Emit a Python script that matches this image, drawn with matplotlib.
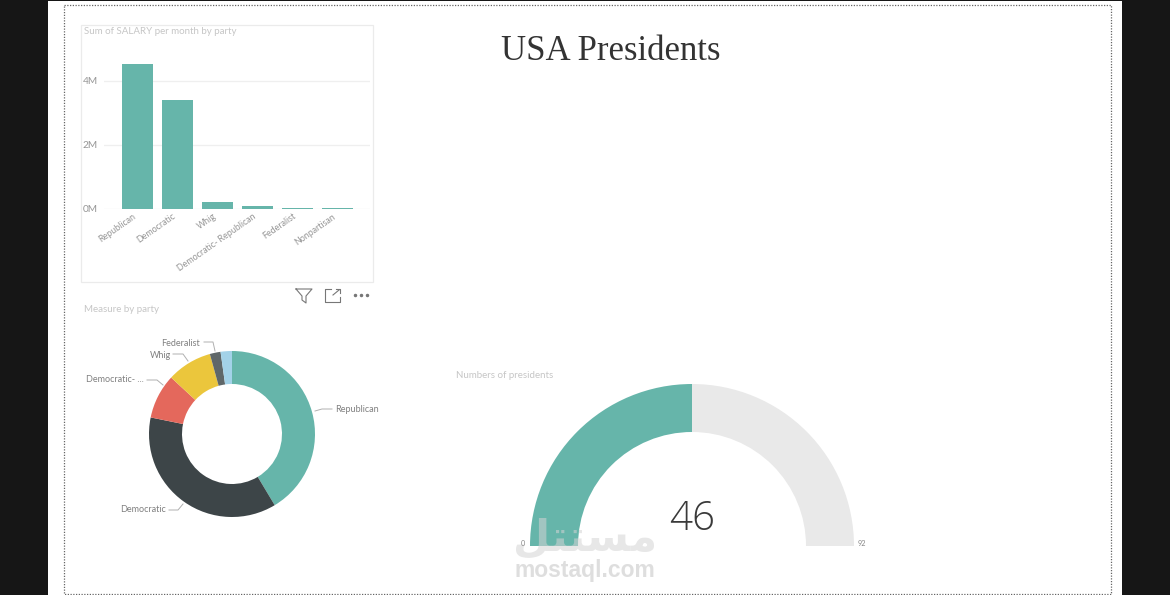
import matplotlib
matplotlib.use("Agg")
import matplotlib.pyplot as plt
from matplotlib.patches import Rectangle
from matplotlib.ticker import FuncFormatter
from matplotlib.transforms import ScaledTranslation

W, H = 1170, 595

# ---- data ----
bar_parties = ["Republican", "Democratic", "Whig", "Democratic- Republican", "Federalist", "Nonpartisan"]
bar_salary_millions = [4.53, 3.42, 0.22, 0.09, 0.03, 0.02]
y_ticks = [0, 2, 4]

donut_parties = ["Republican", "Democratic", "Democratic- ...", "Whig", "Federalist", "Nonpartisan"]
donut_share = [41.4, 36.8, 8.7, 8.8, 2.1, 2.2]
donut_colors = ["#66b5aa", "#3d4548", "#e4685c", "#ebc63c", "#5f6769", "#a3d2e8"]

gauge_value = 46
gauge_max = 92

TEAL = "#66b5aa"
plt.rcParams["font.family"] = ["Lato", "DejaVu Sans"]

fig = plt.figure(figsize=(W / 100, H / 100), dpi=100, facecolor="white")


def box(x0, y0, x1, y1, **kw):
    """Axes from a pixel box given with y measured from the top."""
    return fig.add_axes([x0 / W, 1 - y1 / H, (x1 - x0) / W, (y1 - y0) / H], **kw)


# ---- background overlay, pixel coordinates ----
bg = box(0, 0, W, H, zorder=0)
bg.set_xlim(0, W)
bg.set_ylim(H, 0)
bg.axis("off")
for x, w in [(0, 48), (1122, 48)]:
    bg.add_patch(Rectangle((x, 0), w, H, color="#161616", lw=0))
bg.add_patch(Rectangle((48, 0), 1074, 1.2, color="#161616", lw=0))
bg.add_patch(Rectangle((63.5, 4.5), 1047, 589, fill=False, ec="#666666", lw=0.9, ls=(0, (1, 1.2))))
bg.add_patch(Rectangle((81, 25), 292, 257, fill=False, ec="#ebebeb", lw=0.9))
bg.text(610.5, 51, "USA Presidents", family="Liberation Serif", fontsize=25, color="#333333",
        ha="center", va="center")
title_c = "#c6c6c6"
bg.text(84, 31, "Sum of SALARY per month by party", fontsize=7.05, color=title_c, va="center")
bg.text(84, 309, "Measure by party", fontsize=7.0, color=title_c, va="center")
bg.text(456.5, 375, "Numbers of presidents", fontsize=7.0, color=title_c, va="center")

# visual header icons
ic = "#777777"
bg.plot([296, 312, 306, 306, 302, 302, 296], [289, 289, 296, 303, 300, 296, 289], color=ic, lw=0.8)
bg.plot([331, 325, 325, 340, 340], [289, 289, 302, 302, 297], color=ic, lw=0.8)
bg.plot([333, 339], [295, 290], color=ic, lw=0.8)
bg.plot([336, 340, 340], [289, 289, 293], color=ic, lw=0.8)
bg.plot([354.5, 360.5, 366.5], [295, 295, 295], ls="none", marker="o", ms=1.5, color=ic)

# ---- bar chart ----
ax = box(104, 40, 370, 209, zorder=2)
ax.patch.set_alpha(0)
ax.bar(range(len(bar_parties)), bar_salary_millions, width=0.775, color=TEAL, zorder=3)
ax.set_xlim(-0.8375, 5.8125)
ax.set_ylim(0, 5.28)
ax.set_yticks(y_ticks)
ax.yaxis.set_major_formatter(FuncFormatter(lambda v, _: f"{v:.0f}M"))
ax.set_xticks(range(len(bar_parties)))
ax.set_xticklabels(bar_parties, rotation=35, ha="right", rotation_mode="anchor")
ax.tick_params(axis="y", length=0, labelsize=7.3, labelcolor="#969696", pad=4.5)
ax.tick_params(axis="x", length=0, labelsize=6.4, labelcolor="#969696", pad=2)
ax.grid(axis="y", color="#efefef", lw=0.9, zorder=0)
for s in ax.spines.values():
    s.set_visible(False)
shift = ScaledTranslation(-5 / 100, 0, fig.dpi_scale_trans)
for lab in ax.get_xticklabels():
    lab.set_transform(lab.get_transform() + shift)

# ---- donut ----
dax = box(149, 351, 315, 517, zorder=2)
dax.pie(donut_share, colors=donut_colors, startangle=90, counterclock=False, radius=1,
        wedgeprops=dict(width=33 / 83, linewidth=0))
dax.set_xlim(-1, 1)
dax.set_ylim(-1, 1)

label_c = "#808080"
leaders = {
    "Republican": ([315, 322, 332], [411, 409, 409], 335, 409, "left"),
    "Democratic": ([169, 178, 183], [510, 510, 504], 166, 510, "right"),
    "Democratic- ...": ([147, 157, 163], [380, 380, 385], 143.5, 380, "right"),
    "Whig": ([173, 183, 188], [354, 354, 361], 171, 355, "right"),
    "Federalist": ([204, 213, 215], [342, 342, 351], 200, 343, "right"),
}
for name, (lx, ly, tx, ty, ha) in leaders.items():
    bg.plot(lx, ly, color="#b0b0b0", lw=0.7)
    bg.text(tx, ty, name, fontsize=6.5, color=label_c, ha=ha, va="center")

# ---- gauge: the lower half of the ring is an invisible slice ----
gax = box(530, 384, 854, 708, zorder=2)
gax.set_clip_on(False)
gax.pie([gauge_value, gauge_max - gauge_value, gauge_max],
        colors=[TEAL, "#e9e9e9", "none"], startangle=180, counterclock=False, radius=1,
        wedgeprops=dict(width=48 / 162, linewidth=0))
gax.set_xlim(-1, 1)
gax.set_ylim(-1, 1)

top = box(0, 0, W, H, zorder=4)
top.set_xlim(0, W)
top.set_ylim(H, 0)
top.axis("off")
top.patch.set_alpha(0)
top.text(692, 519, str(gauge_value), fontsize=29, color="#3a3a3a", ha="center", va="center",
         family="Open Sans", fontweight=300)
top.text(523, 543, "0", fontsize=5.2, color="#888888", ha="center", va="center")
top.text(862, 543, str(gauge_max), fontsize=5.2, color="#888888", ha="center", va="center")

# watermark
wm = "#d4d4d4"
top.text(585, 538, "\ufede\ufe98\ufe98\ufeb4\ufee3", family="DejaVu Sans", fontsize=31, fontweight="bold",
         color=wm, alpha=0.55, ha="center", va="center", zorder=1)
top.text(585, 571, "mostaql.com", family="Liberation Sans", fontsize=16.5, fontweight="bold",
         color=wm, alpha=0.75, ha="center", va="center")

fig.savefig("out.png", dpi=100, facecolor="white")
